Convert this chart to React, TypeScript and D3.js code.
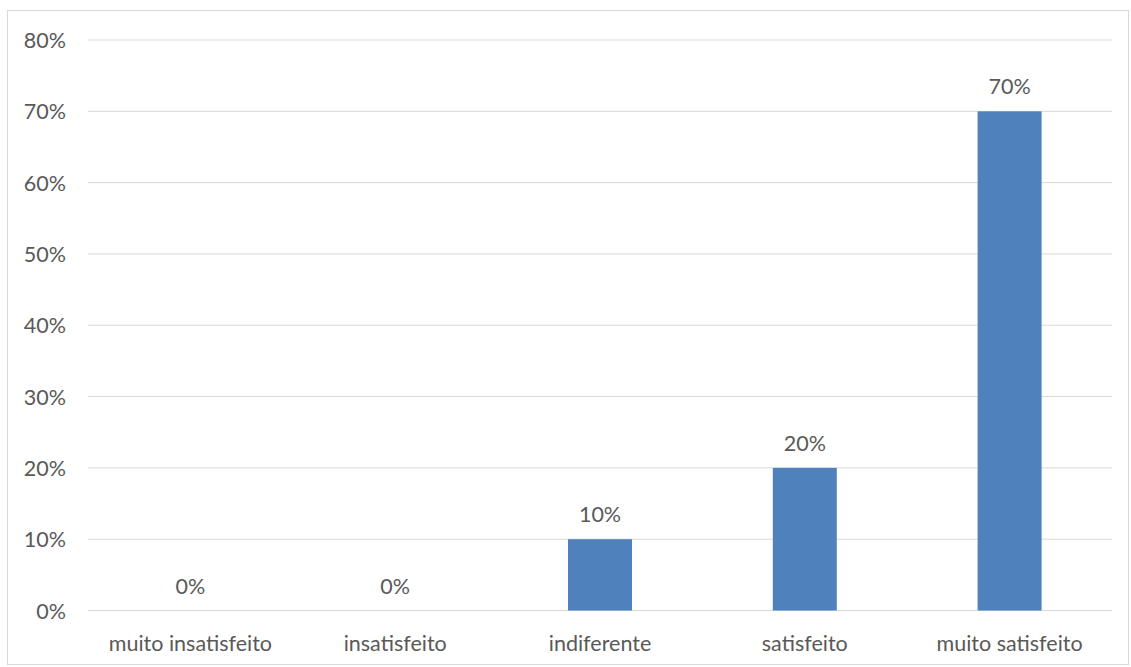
import React from "react";
import * as d3 from "d3";

const categories = ["muito insatisfeito", "insatisfeito", "indiferente", "satisfeito", "muito satisfeito"];
const values = [0, 0, 0.1, 0.2, 0.7];
const yTicks = [0, 0.1, 0.2, 0.3, 0.4, 0.5, 0.6, 0.7, 0.8];

const W = 1131;
const H = 667;
const plot = { left: 88, right: 1112, top: 40, bottom: 610.5 };
const font = "Lato, 'Noto Sans', sans-serif";
const textColor = "#595959";
const fs = 21.5;

export default function App() {
  const x = d3.scaleBand<string>().domain(categories).range([plot.left, plot.right]).paddingInner(0).paddingOuter(0);
  const y = d3.scaleLinear().domain([0, 0.8]).range([plot.bottom, plot.top]);
  const barW = x.bandwidth() * 0.3125;
  const fmt = d3.format(".0%");

  return (
    <svg width={W} height={H} style={{ position: "absolute", left: 0, top: 0 }} fontFamily={font}>
      <rect x={0} y={0} width={W} height={H} fill="#fff" />
      <rect x={7.5} y={10.5} width={1121} height={654} fill="none" stroke="#d9d9d9" strokeWidth={1} />
      {yTicks.map((t) => (
        <g key={t}>
          <line x1={plot.left} x2={plot.right} y1={y(t)} y2={y(t)} stroke="#d9d9d9" strokeWidth={1} />
          <text x={66} y={y(t)} textAnchor="end" dominantBaseline="central" fontSize={fs} fill={textColor}>
            {fmt(t)}
          </text>
        </g>
      ))}
      {categories.map((c, i) => {
        const cx = (x(c) as number) + x.bandwidth() / 2;
        const v = values[i];
        return (
          <g key={c}>
            {v > 0 && (
              <rect x={cx - barW / 2} y={y(v)} width={barW} height={y(0) - y(v)} fill="#4f81bd" />
            )}
            <text x={cx} y={y(v) - 25} textAnchor="middle" dominantBaseline="central" fontSize={fs} fill={textColor}>
              {fmt(v)}
            </text>
            <text x={cx} y={643} textAnchor="middle" dominantBaseline="central" fontSize={fs} fill={textColor}>
              {c}
            </text>
          </g>
        );
      })}
    </svg>
  );
}
